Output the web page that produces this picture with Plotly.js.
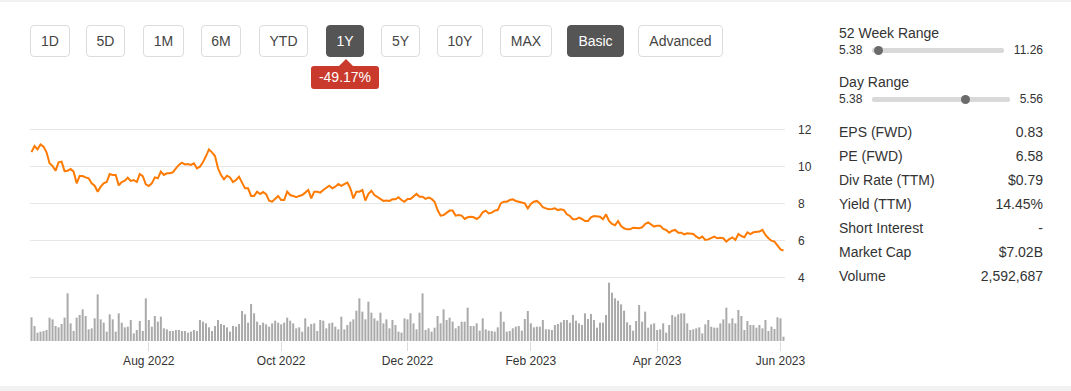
<!DOCTYPE html>
<html><head><meta charset="utf-8">
<script src="https://cdn.plot.ly/plotly-3.0.1.min.js"></script>
<style>
body{margin:0;width:1071px;height:391px;background:#fff;font-family:Arial,"Liberation Sans",sans-serif;color:#333;position:relative;overflow:hidden}
.band{position:absolute;left:0;width:1071px;background:#f2f2f2}
.btn{position:absolute;top:25px;height:32px;box-sizing:border-box;border:1px solid #dcdcdc;border-radius:4px;font-size:14px;line-height:30px;text-align:center;color:#444;background:#fff}
.btn.on{background:#555;border-color:#555;color:#fff}
.tip{position:absolute;left:311px;top:66px;width:68px;height:23px;background:#c93a2d;border-radius:3px;color:#fff;font-size:14px;line-height:23px;text-align:center}
.arrow{position:absolute;left:339px;top:59px;width:0;height:0;border-left:7px solid transparent;border-right:7px solid transparent;border-bottom:7px solid #c93a2d}
.t{position:absolute;white-space:nowrap}
.lbl{font-size:14px;line-height:14px}
.sm{font-size:12px;line-height:12px}
.r{text-align:right;right:28px}
.track{position:absolute;height:5px;background:#d9d9d9;border-radius:2px}
.dot{position:absolute;width:9px;height:9px;border-radius:50%;background:#6b6b6b}
#chart{position:absolute;left:0;top:110px;width:830px;height:270px}
</style></head>
<body>
<div class="band" style="top:0;height:2px"></div>
<div class="band" style="top:386px;height:5px"></div>
<div id="buttons"></div>
<div class="arrow"></div>
<div class="tip">-49.17%</div>

<div class="t lbl" style="left:839px;top:26px">52 Week Range</div>
<div class="t sm" style="left:839px;top:44px">5.38</div>
<div class="track" style="left:872px;top:48px;width:132px"></div>
<div class="dot" style="left:874px;top:46px"></div>
<div class="t sm r" style="top:44px">11.26</div>

<div class="t lbl" style="left:839px;top:75px">Day Range</div>
<div class="t sm" style="left:839px;top:93px">5.38</div>
<div class="track" style="left:872px;top:97px;width:138px"></div>
<div class="dot" style="left:961px;top:95px"></div>
<div class="t sm r" style="top:93px">5.56</div>
<div id="stats"></div>

<div id="chart"></div>
<script>
// ---- data ----
const rangeButtons = ["1D","5D","1M","6M","YTD","1Y","5Y","10Y","MAX","Basic","Advanced"];
const statLabels = ["EPS (FWD)","PE (FWD)","Div Rate (TTM)","Yield (TTM)","Short Interest","Market Cap","Volume"];
const statValues = ["0.83","6.58","$0.79","14.45%","-","$7.02B","2,592,687"];

const startDate = "2022-06-03", endDate = "2023-06-02";
const holidays = ["2022-06-20","2022-07-04","2022-09-05","2022-11-24","2022-12-26","2023-01-02","2023-01-16","2023-02-20","2023-04-07","2023-05-29"];

const price = [
10.78,11.11,10.93,11.2,11.08,10.77,10.18,10.03,9.78,10.23,10.27,9.76,9.78,9.87,9.73,9.10,9.49,9.49,9.42,9.37,
9.10,8.97,8.65,8.92,9.10,9.17,9.60,9.55,9.55,8.99,9.17,9.24,9.40,9.23,9.28,9.17,9.60,9.49,9.05,8.96,
9.10,9.42,9.37,9.73,9.55,9.64,9.64,9.69,9.91,10.09,10.21,10.12,10.14,10.09,10.18,9.91,10.00,10.23,10.57,10.93,
10.77,10.57,9.91,9.55,9.32,9.51,9.42,9.17,9.28,9.46,9.14,8.83,8.83,8.42,8.42,8.65,8.52,8.63,8.52,8.17,
8.11,8.29,8.42,8.20,8.20,8.65,8.47,8.42,8.35,8.42,8.47,8.60,8.74,8.29,8.65,8.65,8.60,8.74,8.87,8.97,
8.83,8.92,9.06,8.96,9.06,9.14,8.83,8.29,8.65,8.65,8.74,8.17,8.53,8.70,8.47,8.35,8.24,8.15,8.17,8.15,
8.24,8.24,8.35,8.20,8.11,8.26,8.26,8.38,8.53,8.38,8.38,8.26,8.33,8.26,8.11,7.66,7.36,7.39,7.52,7.63,
7.63,7.36,7.39,7.36,7.18,7.27,7.30,7.27,7.18,7.30,7.54,7.63,7.48,7.52,7.63,7.66,8.02,8.11,8.11,8.20,
8.24,8.15,8.11,8.08,8.02,7.75,7.99,8.11,8.15,8.02,7.81,7.75,7.70,7.72,7.75,7.66,7.70,7.66,7.43,7.34,
7.16,7.16,7.25,7.18,7.07,7.07,7.27,7.34,7.34,7.30,7.16,7.43,7.07,6.91,6.84,7.07,6.80,6.68,6.62,6.62,
6.71,6.71,6.68,6.73,6.91,7.00,6.89,6.77,6.82,6.82,6.64,6.59,6.44,6.55,6.59,6.44,6.44,6.35,6.41,6.37,
6.37,6.23,6.14,6.23,6.05,6.08,6.14,6.23,6.14,6.17,6.14,5.96,6.10,6.19,6.05,6.37,6.26,6.19,6.46,6.37,
6.46,6.50,6.50,6.59,6.32,6.14,6.01,5.96,5.72,5.54,5.48];

// volume in millions of shares
const volume = [
14.2,9.0,5.0,5.6,6.0,6.6,14.0,13.0,9.0,8.2,10.2,14.0,28.6,10.6,6.0,14.0,15.6,19.0,15.0,7.0,
7.6,13.6,28.0,13.0,11.0,5.6,16.0,13.0,5.6,16.6,11.0,8.2,8.6,12.6,4.6,6.6,12.0,6.0,25.6,12.6,
8.6,15.0,11.6,14.6,7.6,7.0,6.0,6.0,6.6,6.6,6.0,6.0,5.0,5.6,6.6,6.0,12.6,11.6,10.6,8.2,
6.0,9.0,12.6,10.2,9.6,8.2,5.6,9.0,8.6,10.2,18.0,16.0,11.0,22.2,16.6,11.6,9.6,11.0,10.0,8.6,
10.6,12.2,11.0,10.0,11.0,14.0,12.2,10.6,7.6,8.2,5.6,13.6,8.6,10.2,10.6,6.0,12.6,12.2,7.6,10.6,
11.0,8.6,7.0,14.6,7.0,9.6,11.6,13.0,18.2,25.6,17.6,13.0,23.6,17.0,13.6,12.2,17.0,10.6,13.0,7.6,
12.6,9.6,5.6,5.0,13.6,13.0,16.6,10.6,7.0,17.0,28.6,6.6,7.6,5.6,8.0,15.0,10.6,19.0,12.6,14.0,
11.6,7.6,9.0,11.6,11.6,20.0,9.0,9.0,10.6,6.2,13.6,7.0,6.2,6.0,5.6,8.2,17.6,11.6,5.6,6.0,
7.6,8.6,9.0,6.2,13.2,18.0,10.6,8.2,8.6,8.6,12.6,7.0,7.0,6.6,9.6,10.2,11.2,12.6,12.6,11.0,
15.6,12.2,10.6,9.6,16.6,13.2,16.2,12.6,8.0,11.0,11.0,15.6,35.0,29.0,25.6,24.2,22.0,18.2,11.2,9.6,
6.2,12.0,21.6,11.6,17.6,8.0,10.0,10.6,6.6,7.0,10.6,5.0,9.6,15.6,14.6,16.0,16.6,16.6,10.6,6.6,
7.0,7.6,8.2,4.6,10.0,12.6,8.6,8.0,8.0,10.6,13.0,20.0,10.6,13.6,10.6,18.6,15.0,6.6,12.0,9.6,
9.6,8.0,9.6,7.6,12.6,6.0,8.6,7.2,14.2,13.6,2.6];

const tickMonths = ["2022-08","2022-10","2022-12","2023-02","2023-04","2023-06"];
const tickLabels = ["Aug 2022","Oct 2022","Dec 2022","Feb 2023","Apr 2023","Jun 2023"];

// ---- page widgets ----
const btnPos = [[30,40],[86,39],[143,41],[201,40],[259,49],[326,38],[381,39],[437,46],[500,52],[567,57],[638,85]];
const bWrap = document.getElementById('buttons');
rangeButtons.forEach((b,k)=>{
  const d=document.createElement('div');
  d.className='btn'+((b==='1Y'||b==='Basic')?' on':'');
  d.style.left=btnPos[k][0]+'px'; d.style.width=btnPos[k][1]+'px';
  d.textContent=b; bWrap.appendChild(d);
});
const sWrap = document.getElementById('stats');
statLabels.forEach((l,k)=>{
  const top = 124.5 + 24*k;
  const a=document.createElement('div'); a.className='t lbl'; a.style.left='839px'; a.style.top=top+'px'; a.textContent=l;
  const b=document.createElement('div'); b.className='t lbl r'; b.style.top=top+'px'; b.textContent=statValues[k];
  sWrap.appendChild(a); sWrap.appendChild(b);
});

// ---- trading days ----
const dates=[];
{
  let d=new Date(startDate+"T12:00:00Z"); const e=new Date(endDate+"T12:00:00Z");
  while(d<=e){
    const s=d.toISOString().slice(0,10); const wd=d.getUTCDay();
    if(wd!==0&&wd!==6&&holidays.indexOf(s)<0) dates.push(s);
    d=new Date(d.getTime()+86400000);
  }
}
const tickVals = tickMonths.map(m=>dates.find(s=>s.slice(0,7)===m));
const n = dates.length;

Plotly.newPlot('chart',[
  {type:'bar',x:dates,y:volume,yaxis:'y2',marker:{color:'#aaaaaa',line:{width:0}},hoverinfo:'skip'},
  {type:'scatter',mode:'lines',x:dates,y:price,line:{color:'#ff7a00',width:2},hoverinfo:'skip'}
],{
  width:830,height:270,margin:{l:30,r:45,t:10,b:39},
  paper_bgcolor:'rgba(0,0,0,0)',plot_bgcolor:'rgba(0,0,0,0)',
  showlegend:false,bargap:0.33,
  font:{family:'Arial, "Liberation Sans", sans-serif',size:12,color:'#333'},
  xaxis:{type:'category',range:[-0.5,n-0.5],tickmode:'array',tickvals:tickVals,ticktext:tickLabels,
    ticks:'outside',ticklen:9,tickcolor:'#dcdcdc',tickwidth:1,showgrid:false,zeroline:false,showline:false,tickangle:0,fixedrange:true},
  yaxis:{side:'right',range:[0.605,12.512],tickmode:'array',tickvals:[4,6,8,10,12],showgrid:true,gridcolor:'#e6e6e6',gridwidth:1,
    zeroline:false,showline:false,ticks:'',ticklabelstandoff:12,fixedrange:true},
  yaxis2:{overlaying:'y',range:[0,132.6],visible:false,fixedrange:true}
},{displayModeBar:false,staticPlot:true});
</script>
</body></html>
